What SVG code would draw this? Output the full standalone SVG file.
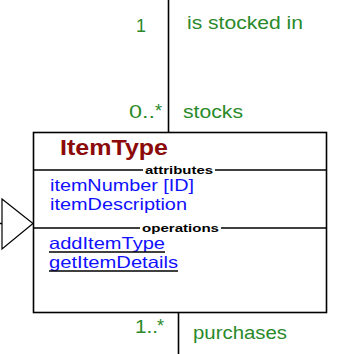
<svg xmlns="http://www.w3.org/2000/svg" width="338" height="354" viewBox="0 0 338 354">
  <style>
    .line { stroke: #000; stroke-width: 1.6; fill: none; }
    .role { font-family: "Liberation Sans", Arial, sans-serif; font-size: 18px; fill: #2a8a2a; }
    .title { font-family: "Liberation Sans", Arial, sans-serif; font-size: 22px; font-weight: bold; fill: #8b0a0a; }
    .attr { font-family: "Liberation Sans", Arial, sans-serif; font-size: 16.5px; fill: #1010ff; }
    .op { font-family: "Liberation Sans", Arial, sans-serif; font-size: 16.5px; fill: #1010ff; }
    .sect { font-family: "Liberation Sans", Arial, sans-serif; font-size: 10.5px; font-weight: bold; fill: #000; }
  </style>
  <rect width="338" height="354" fill="#fff"/>

  <!-- association lines and inheritance arrow -->
  <g id="connectors">
    <line class="line" x1="168.5" y1="0" x2="168.5" y2="132"/>
    <line class="line" x1="178.5" y1="313" x2="178.5" y2="354"/>
    <line class="line" x1="0" y1="223.5" x2="2" y2="223.5"/>
    <polygon points="2,199 33,223.5 2,249" fill="#fff" stroke="#000" stroke-width="1.2"/>
    <text class="role" x="136" y="32">1</text>
    <text class="role" x="187" y="29" textLength="116" lengthAdjust="spacingAndGlyphs">is stocked in</text>
    <text class="role" x="129" y="118" textLength="26" lengthAdjust="spacingAndGlyphs">0..</text>
    <text class="role" x="155" y="117" font-size="15">*</text>
    <text class="role" x="183" y="118" textLength="60" lengthAdjust="spacingAndGlyphs">stocks</text>
    <text class="role" x="135" y="333" textLength="23" lengthAdjust="spacingAndGlyphs">1..</text>
    <text class="role" x="157" y="332" font-size="15">*</text>
    <text class="role" x="193" y="339" textLength="94" lengthAdjust="spacingAndGlyphs">purchases</text>
  </g>

  <!-- class box -->
  <g id="ItemType">
    <rect x="33.5" y="132.5" width="293" height="180" fill="#fff" stroke="#000" stroke-width="1.6"/>
    <text class="title" x="60" y="155" textLength="108" lengthAdjust="spacingAndGlyphs">ItemType</text>
    <line class="line" x1="33" y1="170" x2="143" y2="170"/>
    <line class="line" x1="215" y1="170" x2="327" y2="170"/>
    <text class="sect" x="145" y="173.5" textLength="68" lengthAdjust="spacingAndGlyphs">attributes</text>
    <text class="attr" x="50" y="191" textLength="144" lengthAdjust="spacingAndGlyphs">itemNumber [ID]</text>
    <text class="attr" x="50" y="209.5" textLength="137" lengthAdjust="spacingAndGlyphs">itemDescription</text>
    <line class="line" x1="33" y1="228" x2="140" y2="228"/>
    <line class="line" x1="221" y1="228" x2="327" y2="228"/>
    <text class="sect" x="142" y="231.5" textLength="77" lengthAdjust="spacingAndGlyphs">operations</text>
    <text class="op" x="49" y="249" textLength="116" lengthAdjust="spacingAndGlyphs">addItemType</text>
    <line x1="49" y1="252" x2="165" y2="252" stroke="#000" stroke-width="1.3"/>
    <text class="op" x="49" y="268" textLength="129" lengthAdjust="spacingAndGlyphs">getItemDetails</text>
    <line x1="49" y1="271" x2="178" y2="271" stroke="#000" stroke-width="1.3"/>
  </g>
</svg>
